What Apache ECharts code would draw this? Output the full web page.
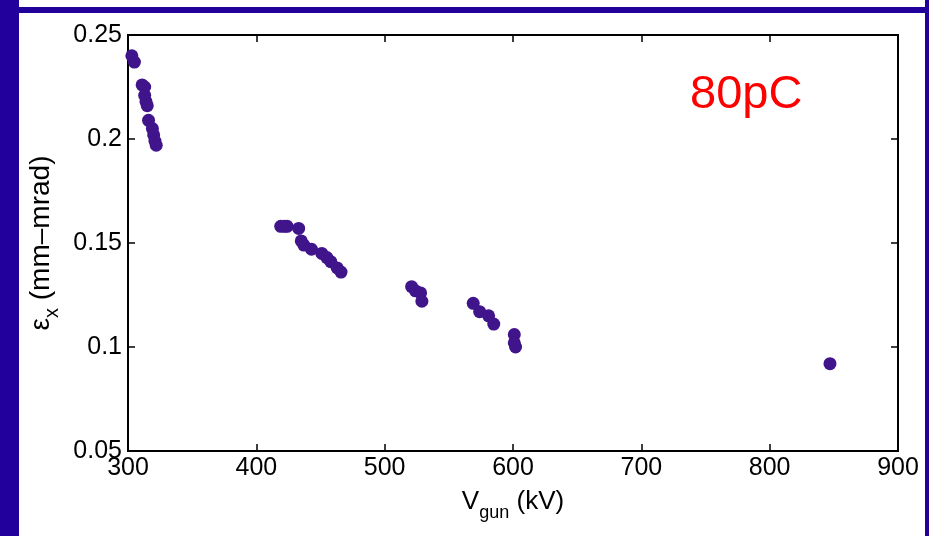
<!DOCTYPE html>
<html>
<head>
<meta charset="utf-8">
<script src="https://cdn.jsdelivr.net/npm/echarts@6/dist/echarts.min.js"></script>
<style>
html,body{margin:0;padding:0;background:#fff;}
#main{width:929px;height:536px;}
</style>
</head>
<body>
<div id="main"></div>
<script>
// Data
var vgun = [303, 305, 311, 313, 313, 314, 315, 316, 319, 320, 321, 322,
            419, 422, 424, 433, 435, 437, 443, 451, 455, 458, 463, 466,
            521, 524, 528, 529,
            569, 574, 581, 585,
            601, 601, 602,
            847];
var emittance = [0.240, 0.237, 0.226, 0.225, 0.221, 0.218, 0.216, 0.209, 0.205, 0.202, 0.199, 0.197,
                 0.158, 0.158, 0.158, 0.157, 0.151, 0.149, 0.147, 0.145, 0.143, 0.141, 0.138, 0.136,
                 0.129, 0.127, 0.126, 0.122,
                 0.121, 0.117, 0.115, 0.111,
                 0.106, 0.102, 0.100,
                 0.092];
var xTicks = [300, 400, 500, 600, 700, 800, 900];
var yTicks = [0.05, 0.1, 0.15, 0.2, 0.25];
var annotation = '80pC';

var points = vgun.map(function (v, i) { return [v, emittance[i]]; });
var FONT = '"Liberation Sans", Arial, sans-serif';
var chart = echarts.init(document.getElementById('main'), null, {renderer: 'canvas'});

function yFmt(v) {
  var r = Math.round(v * 100) / 100;
  for (var i = 0; i < yTicks.length; i++) if (Math.abs(yTicks[i] - r) < 1e-9) return String(yTicks[i]);
  return '';
}

var tickStyle = {show: true, inside: true, length: 7, lineStyle: {color: '#000', width: 1.5}};

chart.setOption({
  animation: false,
  backgroundColor: '#fff',
  grid: {left: 128, top: 35, right: 31, bottom: 85, show: true, borderColor: '#000', borderWidth: 2, backgroundColor: 'transparent'},
  xAxis: [{
    type: 'value', min: 300, max: 900, interval: 100, position: 'bottom',
    axisLine: {show: true, onZero: false, lineStyle: {color: '#000', width: 2}},
    axisTick: tickStyle,
    splitLine: {show: false},
    axisLabel: {color: '#000', fontSize: 25, fontFamily: FONT, margin: 5},
    name: '{a|V}{s|gun}{a| (kV)}',
    nameLocation: 'middle', nameGap: 38,
    nameTextStyle: {
      rich: {
        a: {fontSize: 26, fontFamily: FONT, color: '#000', lineHeight: 30, verticalAlign: 'top'},
        s: {fontSize: 18, fontFamily: FONT, color: '#000', lineHeight: 18, verticalAlign: 'top', padding: [15, 0, 0, 0]}
      }
    }
  }, {
    type: 'value', min: 300, max: 900, interval: 100, position: 'top',
    axisLine: {show: true, onZero: false, lineStyle: {color: '#000', width: 2}},
    axisTick: tickStyle, axisLabel: {show: false}, splitLine: {show: false}
  }],
  yAxis: [{
    type: 'value', min: 0.05, max: 0.25, interval: 0.05, position: 'left',
    axisLine: {show: true, onZero: false, lineStyle: {color: '#000', width: 2}},
    axisTick: tickStyle,
    splitLine: {show: false},
    axisLabel: {color: '#000', fontSize: 25, fontFamily: FONT, margin: 6, formatter: yFmt},
    name: '{a|\u03b5}{s|x}{a| (mm\u2013mrad)}',
    nameLocation: 'middle', nameGap: 66, nameRotate: 90,
    nameTextStyle: {
      rich: {
        a: {fontSize: 28, fontFamily: FONT, color: '#000', lineHeight: 32, verticalAlign: 'top'},
        s: {fontSize: 20, fontFamily: FONT, color: '#000', lineHeight: 20, verticalAlign: 'top', padding: [15, 0, 0, 0]}
      }
    }
  }, {
    type: 'value', min: 0.05, max: 0.25, interval: 0.05, position: 'right',
    axisLine: {show: true, onZero: false, lineStyle: {color: '#000', width: 2}},
    axisTick: tickStyle, axisLabel: {show: false}, splitLine: {show: false}
  }],
  series: [{
    type: 'scatter',
    xAxisIndex: 0, yAxisIndex: 0,
    data: points,
    symbol: 'circle',
    symbolSize: 13,
    itemStyle: {color: '#40148a', opacity: 1},
    z: 3
  }],
  graphic: [
    {type: 'rect', left: 0, top: 0, shape: {width: 19, height: 536}, style: {fill: '#22009b'}, silent: true, z: 100},
    {type: 'rect', left: 0, top: 7, shape: {width: 926, height: 6}, style: {fill: '#22009b'}, silent: true, z: 100},
    {type: 'rect', left: 925, top: 0, shape: {width: 4, height: 536}, style: {fill: '#22009b'}, silent: true, z: 100},
    {type: 'text', left: 690, top: 72, style: {text: annotation, fill: '#ff0000', fontSize: 47, fontFamily: FONT}, silent: true, z: 100}
  ]
});
</script>
</body>
</html>
